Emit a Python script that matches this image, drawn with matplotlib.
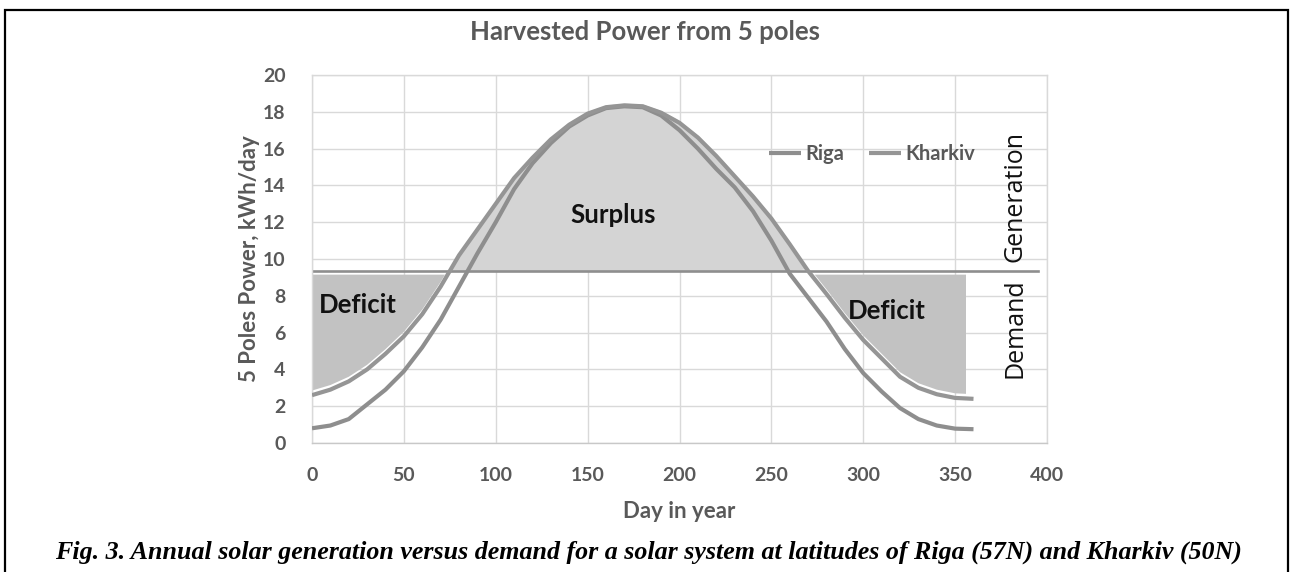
import numpy as np
import matplotlib
matplotlib.use("Agg")
import matplotlib.pyplot as plt
from matplotlib.patches import Rectangle

# ---- data ----
days = [0, 10, 20, 30, 40, 50, 60, 70, 80, 90, 100, 110, 120, 130, 140, 150, 160, 170, 180,
        190, 200, 210, 220, 230, 240, 250, 260, 270, 280, 290, 300, 310, 320, 330, 340, 350, 360]
kharkiv = [2.6, 2.9, 3.35, 4.0, 4.85, 5.8, 7.0, 8.5, 10.2, 11.6, 13.0, 14.4, 15.5, 16.5, 17.3, 17.9,
           18.25, 18.35, 18.3, 17.95, 17.4, 16.6, 15.6, 14.5, 13.4, 12.2, 10.8, 9.35, 8.1, 6.8, 5.6,
           4.6, 3.6, 3.0, 2.65, 2.45, 2.4]
riga = [0.8, 0.95, 1.3, 2.1, 2.9, 3.9, 5.2, 6.7, 8.5, 10.3, 12.0, 13.8, 15.2, 16.3, 17.2, 17.8,
        18.2, 18.3, 18.25, 17.8, 17.0, 16.0, 14.9, 13.9, 12.6, 11.0, 9.2, 7.9, 6.6, 5.1, 3.8,
        2.8, 1.9, 1.3, 0.95, 0.78, 0.75]
demand = 9.37
demand_span = [0, 395]
deficit_top = 9.15
deficit_end = 356
series_names = ["Riga", "Kharkiv"]
x_ticks = [0, 50, 100, 150, 200, 250, 300, 350, 400]
y_ticks = [0, 2, 4, 6, 8, 10, 12, 14, 16, 18, 20]

d = np.array(days, float)
kh = np.array(kharkiv)
rg = np.array(riga)

TXT = "#595959"
LINE = "#8e8e8e"
FONT = "Lato"
W, H = 1292, 572

fig = plt.figure(figsize=(W / 100, H / 100), dpi=100)
ax = fig.add_axes([312 / W, 1 - 443 / H, (1047 - 312) / W, (443 - 75) / H])

# fills
ax.fill_between(d, kh + 0.12, demand, where=kh > demand, interpolate=True,
                color="#d4d4d4", lw=0, zorder=1)
fd = ax.fill_between(d, kh + 0.25, deficit_top, where=kh < deficit_top, interpolate=True,
                     color="#c2c2c2", lw=0, zorder=1)
fd.set_clip_path(Rectangle((-10, -5), deficit_end + 10, 30, transform=ax.transData))

# demand line
ax.plot(demand_span, [demand, demand], color=LINE, lw=1.9, zorder=2)

# curves
l1, = ax.plot(d, rg, color=LINE, lw=3.0, solid_capstyle="butt", zorder=3, label=series_names[0])
l2, = ax.plot(d, kh, color="#959595", lw=3.0, solid_capstyle="butt", zorder=3, label=series_names[1])

ax.set_xlim(0, 400)
ax.set_ylim(0, 20)
ax.set_xticks(x_ticks)
ax.set_yticks(y_ticks)
ax.grid(True, color="#d9d9d9", lw=1.0, zorder=0)
ax.set_axisbelow(True)
for s in ax.spines.values():
    s.set_color("#d9d9d9")
    s.set_linewidth(1.0)
ax.spines["bottom"].set_color("#c8c8c8")
ax.tick_params(length=0, labelsize=14, labelcolor=TXT)
ax.tick_params(axis="y", pad=19)
ax.tick_params(axis="x", pad=17)
for lab in ax.get_xticklabels() + ax.get_yticklabels():
    lab.set_fontfamily(FONT)
    lab.set_fontweight("bold")

fig.text(679 / W, 1 - 512 / H, "Day in year", ha="center", va="center", fontsize=16,
         color=TXT, fontweight="bold", fontfamily=FONT)
fig.text(249 / W, 1 - 259 / H, "5 Poles Power, kWh/day", rotation=90, ha="center", va="center",
         fontsize=16, color=TXT, fontweight="bold", fontfamily=FONT)

leg = ax.legend(handles=[l1, l2], loc="center left", bbox_to_anchor=(0.608, 0.785), ncol=2,
                frameon=False, borderpad=0, handlelength=1.6, handletextpad=0.2, columnspacing=1.25,
                prop={"family": FONT, "weight": "bold", "size": 14.5})
for t in leg.get_texts():
    t.set_color(TXT)

ax.text(164, 12.4, "Surplus", ha="center", va="center", fontsize=18.5, fontweight="bold",
        fontfamily=FONT, color="#111111", zorder=5)
ax.text(25, 7.5, "Deficit", ha="center", va="center", fontsize=18.5, fontweight="bold",
        fontfamily=FONT, color="#111111", zorder=5)
ax.text(313, 7.2, "Deficit", ha="center", va="center", fontsize=18.5, fontweight="bold",
        fontfamily=FONT, color="#111111", zorder=5)

fig.text(1015 / W, 1 - 196 / H, "Generation", rotation=90, ha="center", va="center",
         fontsize=18, fontfamily="Open Sans", color="#111111")
fig.text(1015 / W, 1 - 328 / H, "Demand", rotation=90, ha="center", va="center",
         fontsize=18, fontfamily="Open Sans", color="#111111")

fig.text(645 / W, 1 - 32 / H, "Harvested Power from 5 poles", ha="center", va="center",
         fontsize=18.5, fontweight="bold", fontfamily=FONT, color=TXT)

fig.text(648 / W, 1 - 552 / H,
         "Fig. 3. Annual solar generation versus demand for a solar system at latitudes of Riga (57N) and Kharkiv (50N)",
         ha="center", va="center", fontsize=18.7, fontweight="bold", fontstyle="italic",
         fontfamily="Liberation Serif", color="black")

fig.patches.append(Rectangle((5 / W, -0.05), (1288 - 5) / W, 1 - 10 / H + 0.05,
                             transform=fig.transFigure, fill=False, edgecolor="black", lw=1.6))

fig.savefig("out.png", dpi=100)
